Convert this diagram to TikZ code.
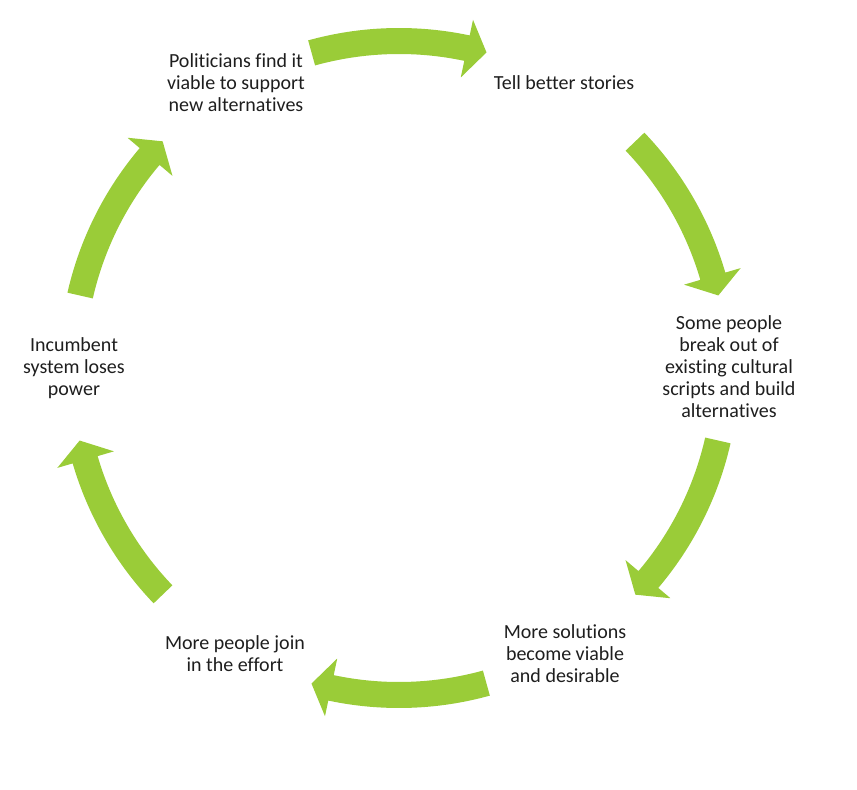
\documentclass[tikz,border=0pt]{standalone}
\usepackage{fontspec}
\setmainfont{Carlito}[Ligatures={NoCommon,NoRequired,NoContextual}]
\definecolor{arrowgreen}{RGB}{154,204,56}
\definecolor{txt}{RGB}{30,30,30}
\tikzset{
  lbl/.style={align=center, text=txt, font=\fontsize{20}{22}\selectfont, inner sep=0pt},
  cyc/.style={fill=arrowgreen, draw=none}
}
\begin{document}
\begin{tikzpicture}
\useasboundingbox (-399pt,-422pt) rectangle (458pt,368pt);
% text nodes
\node[lbl] (tell) at (165pt,285pt) {Tell better stories};
\node[lbl] (some) at (330pt,1pt) {Some people\\break out of\\existing cultural\\scripts and build\\alternatives};
\node[lbl] (sol) at (166pt,-286pt) {More solutions\\become viable\\and desirable};
\node[lbl] (join) at (-164pt,-286pt) {More people join\\in the effort};
\node[lbl] (inc) at (-325pt,0pt) {Incumbent\\system loses\\power};
\node[lbl] (pol) at (-163pt,285pt) {Politicians find it\\viable to support\\new alternatives};
% curved block arrows (clockwise)
\foreach \c/\o in {90/0, 30/-1.7, -30/1.7, -90/0, -150/-1.7, 150/1.7}{
  \pgfmathsetmacro{\s}{\c+\o+15.5}
  \pgfmathsetmacro{\b}{\c+\o-12}
  \pgfmathsetmacro{\t}{\c+\o-15.5}
  \fill[cyc] (\s:340pt) arc[start angle=\s, end angle=\b, radius=340pt]
    -- (\b:356pt) -- (\t:327.5pt) -- (\b:297pt) -- (\b:314pt)
    arc[start angle=\b, end angle=\s, radius=314pt] -- cycle;
}
\end{tikzpicture}
\end{document}
